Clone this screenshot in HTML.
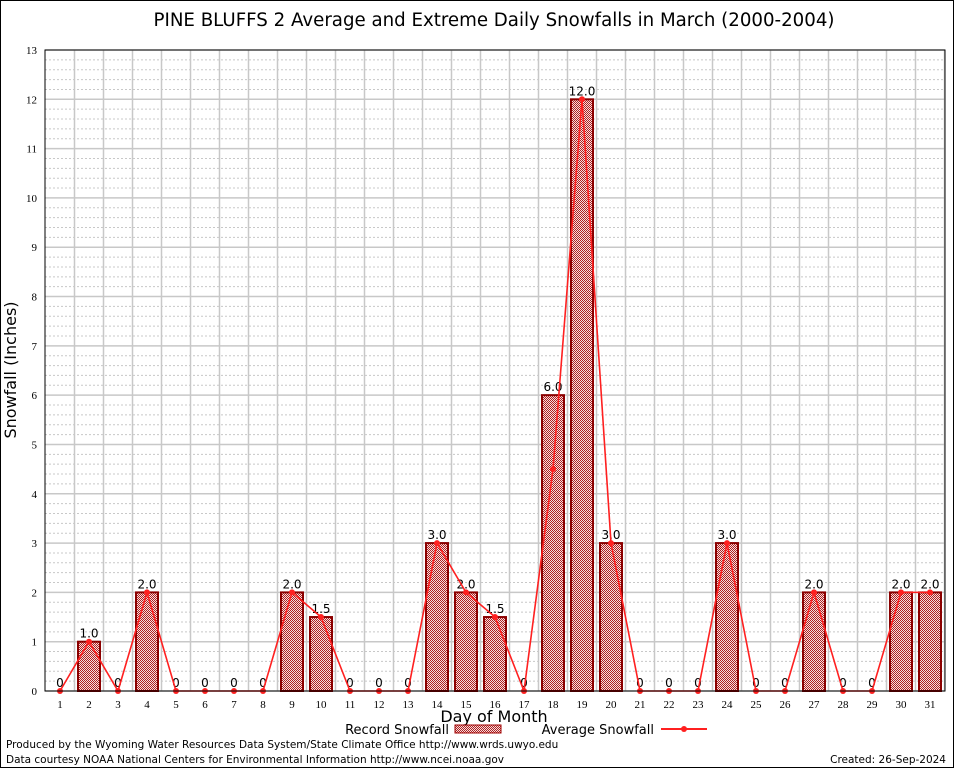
<!DOCTYPE html>
<html><head><meta charset="utf-8">
<style>
body{margin:0;background:#fff;}
svg{display:block;font-family:"DejaVu Sans","Liberation Sans",sans-serif;}
</style></head>
<body>
<svg id="chart" width="954" height="768" viewBox="0 0 954 768" xmlns="http://www.w3.org/2000/svg">
<defs>
<pattern id="hatch" width="2" height="2" patternUnits="userSpaceOnUse">
<rect width="2" height="2" fill="#f4e0e0"/>
<rect width="1" height="1" fill="#b02020"/>
<rect x="1" y="1" width="1" height="1" fill="#b02020"/>
</pattern>
</defs>
<rect x="0.5" y="0.5" width="953" height="767" fill="#fff" stroke="#000"/>
<text x="494" y="26" font-size="18.2" text-anchor="middle">PINE BLUFFS 2 Average and Extreme Daily Snowfalls in March (2000-2004)</text>
<g id="grid"></g>
<g id="bars"></g>
<g id="line"></g>
<g id="axes"></g>
<text x="16" y="370" font-size="16" text-anchor="middle" transform="rotate(-90 16 370)">Snowfall (Inches)</text>
<text x="494" y="722" font-size="16" text-anchor="middle">Day of Month</text>
<g>
<text x="449" y="734" font-size="13" text-anchor="end">Record Snowfall</text>
<rect x="455" y="725" width="46" height="8" fill="url(#hatch)" stroke="#a00000"/>
<text x="654" y="734" font-size="13" text-anchor="end">Average Snowfall</text>
<line x1="661" y1="729" x2="707" y2="729" stroke="#ff2020" stroke-width="2"/>
<circle cx="684" cy="729" r="3" fill="#ff2020"/>
</g>
<text x="6" y="748" font-size="10.5">Produced by the Wyoming Water Resources Data System/State Climate Office http://www.wrds.uwyo.edu</text>
<text x="6" y="763" font-size="10.5">Data courtesy NOAA National Centers for Environmental Information http://www.ncei.noaa.gov</text>
<text x="946" y="763" font-size="10.5" text-anchor="end">Created: 26-Sep-2024</text>
</svg>
<script>
const days=[1,2,3,4,5,6,7,8,9,10,11,12,13,14,15,16,17,18,19,20,21,22,23,24,25,26,27,28,29,30,31];
const recordValues=[0,1.0,0,2.0,0,0,0,0,2.0,1.5,0,0,0,3.0,2.0,1.5,0,6.0,12.0,3.0,0,0,0,3.0,0,0,2.0,0,0,2.0,2.0];
const averageValues=[0,1.0,0,2.0,0,0,0,0,2.0,1.5,0,0,0,3.0,2.0,1.5,0,4.5,12.0,3.0,0,0,0,3.0,0,0,2.0,0,0,2.0,2.0];
const yTicks=[0,1,2,3,4,5,6,7,8,9,10,11,12,13];
const NS="http://www.w3.org/2000/svg";
const L=45,R=945,T=50,B=691;
function xs(d){return 60+(d-1)*29;}
function ys(v){return B-(v/13)*(B-T);}
function mk(tag,attrs,parent){const e=document.createElementNS(NS,tag);for(const k in attrs)e.setAttribute(k,attrs[k]);parent.appendChild(e);return e;}
const grid=document.getElementById('grid'),bars=document.getElementById('bars'),line=document.getElementById('line'),axes=document.getElementById('axes');
mk('rect',{x:L,y:T,width:R-L,height:B-T,fill:'#fff'},grid);
for(let v=0;v<13;v+=0.2){if(Math.abs(v-Math.round(v))<0.01)continue;
 const g=mk('line',{x1:L,x2:R,y1:ys(v),y2:ys(v),stroke:'#c8c8c8','stroke-dasharray':'2,2','stroke-width':1},grid);
 
 }
yTicks.forEach(v=>{const g=mk('line',{x1:L,x2:R,y1:ys(v),y2:ys(v),stroke:'#c8c8c8','stroke-width':1.5},grid);
 
 
 const t=mk('text',{x:L-8,y:ys(v)+4,'font-size':11,'text-anchor':'end','font-family':'Liberation Serif, serif'},axes);t.textContent=v;
 
 });
days.forEach(d=>{const g=mk('line',{x1:xs(d)+14.5,x2:xs(d)+14.5,y1:T,y2:B,stroke:'#c8c8c8','stroke-width':1.5},grid);
 
 
 const t=mk('text',{x:xs(d),y:B+17,'font-size':11,'text-anchor':'middle','font-family':'Liberation Serif, serif'},axes);t.textContent=d;
 
 });
mk('rect',{x:L,y:T,width:R-L,height:B-T,fill:'none',stroke:'#000','stroke-width':1},axes);
days.forEach((d,i)=>{const v=recordValues[i];
 if(v>0){const b=mk('rect',{x:xs(d)-11,y:ys(v),width:22,height:B-ys(v),fill:'url(#hatch)',stroke:'#8b0000','stroke-width':2},bars);
  
  }
 const t=mk('text',{x:xs(d),y:ys(v)-4,'font-size':12,'text-anchor':'middle'},bars);t.textContent=v>0?v.toFixed(1):'0';
 
 });
const pts=days.map((d,i)=>xs(d)+','+ys(averageValues[i])).join(' ');
const pl=mk('polyline',{points:pts,fill:'none',stroke:'#ff2020','stroke-width':1.6},line);


days.forEach((d,i)=>{const c=mk('circle',{cx:xs(d),cy:ys(averageValues[i]),r:3,fill:'#ff2020'},line);
 
 });
</script>
</body></html>
